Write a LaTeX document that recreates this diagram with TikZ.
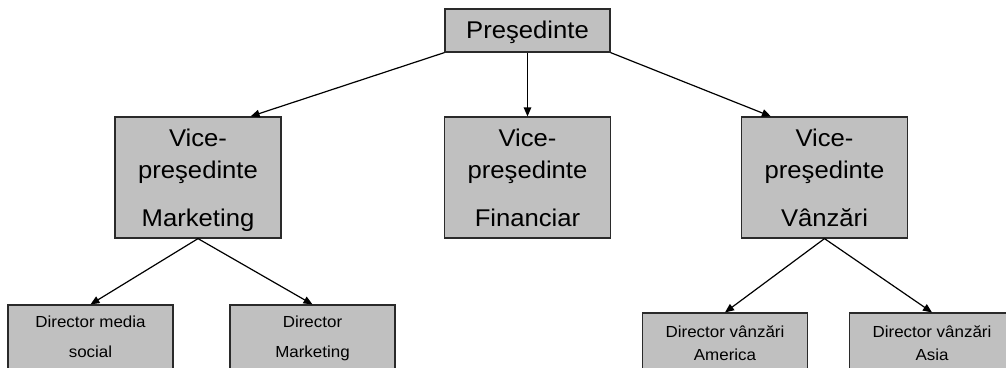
\documentclass[tikz,border=0pt]{standalone}
\usepackage{fontspec}
\setmainfont{Liberation Sans}
\newfontfamily\chartfont[FakeStretch=1.06]{Liberation Sans}
\usetikzlibrary{arrows.meta,calc}
\definecolor{boxfill}{HTML}{C0C0C0}
\definecolor{boxline}{HTML}{2A2A2A}
\begin{document}
\begin{tikzpicture}[x=1pt,y=-1pt,
  box/.style={draw=boxline, fill=boxfill, line width=1.2pt, inner sep=0pt},
  upper/.style={box, minimum width=166pt, minimum height=121pt},
  lower/.style={box, minimum width=165pt, minimum height=77pt},
  big/.style={font=\chartfont\fontsize{24.2}{28}\selectfont, inner sep=0pt, anchor=base},
  small/.style={font=\chartfont\fontsize{16}{19}\selectfont, inner sep=0pt, anchor=base},
  link/.style={line width=1.2pt, -{Triangle[length=9pt,width=7.5pt]}}]
\useasboundingbox (0,0) rectangle (1006,367);
\clip (0,0) rectangle (1006,367);

% boxes
\node[box, minimum width=165pt, minimum height=43pt] (pres) at (527.5,30.5) {};
\node[upper] (vm) at (198,177.5) {};
\node[upper] (vf) at (527.5,177.5) {};
\node[upper] (vv) at (824.5,177.5) {};
\node[lower] (d1) at (90.5,343.5) {};
\node[lower] (d2) at (312.5,343.5) {};
\node[lower] (d3) at (725,351.5) {};
\node[lower] (d4) at (932,351.5) {};

% labels
\node[big] (presT) at (527.5,38) {Preşedinte};

\node[big] (vmA) at (198,146) {Vice-};
\node[big] (vmB) at (198,178) {preşedinte};
\node[big] (vmC) at (198,226) {Marketing};

\node[big] (vfA) at (527.5,146) {Vice-};
\node[big] (vfB) at (527.5,178) {preşedinte};
\node[big] (vfC) at (527.5,226) {Financiar};

\node[big] (vvA) at (824.5,146) {Vice-};
\node[big] (vvB) at (824.5,178) {preşedinte};
\node[big] (vvC) at (824.5,226) {Vânzări};

\node[small] (d1A) at (90.5,327) {Director media};
\node[small] (d1B) at (90.5,357) {social};
\node[small] (d2A) at (312.5,327) {Director};
\node[small] (d2B) at (312.5,357) {Marketing};
\node[small] (d3A) at (725,337) {Director vânzări};
\node[small] (d3B) at (725,360) {America};
\node[small] (d4A) at (932,337) {Director vânzări};
\node[small] (d4B) at (932,360) {Asia};

% connectors
\draw[link] (pres.south west) -- ([xshift=-31pt]vm.north east);
\draw[link] (pres.south) -- (vf.north);
\draw[link] (pres.south east) -- ([xshift=30pt]vv.north west);
\draw[link] (vm.south) -- (d1.north);
\draw[link] (vm.south) -- (d2.north);
\draw[link] (vv.south) -- (d3.north);
\draw[link] (vv.south) -- (d4.north);
\end{tikzpicture}
\end{document}
